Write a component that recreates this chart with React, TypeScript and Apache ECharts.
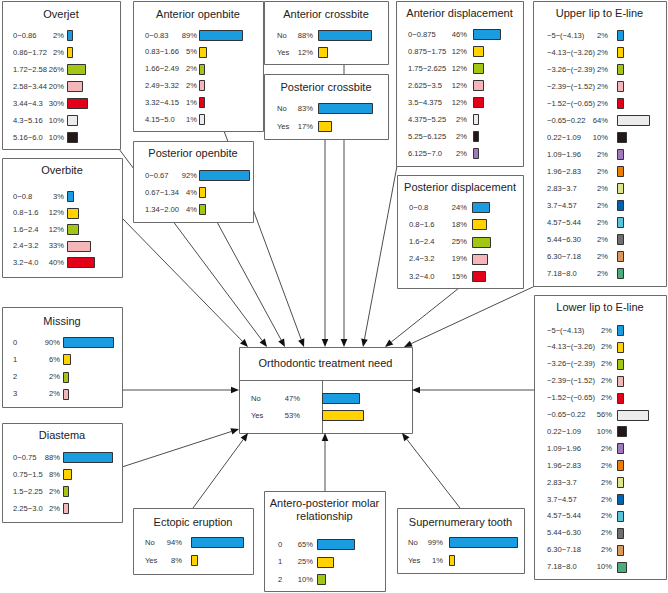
import React, { useEffect, useRef } from "react";
import * as echarts from "echarts";

// ---------- data ----------
const overjetStates = ["0−0.86", "0.86−1.72", "1.72−2.58", "2.58−3.44", "3.44−4.3", "4.3−5.16", "5.16−6.0"];
const overjetPct = [2, 2, 26, 20, 30, 10, 10];

const antOpenStates = ["0−0.83", "0.83−1.66", "1.66−2.49", "2.49−3.32", "3.32−4.15", "4.15−5.0"];
const antOpenPct = [89, 5, 2, 2, 1, 1];

const yesNoStates = ["No", "Yes"];
const antCrossPct = [88, 12];
const postCrossPct = [83, 17];

const antDispStates = ["0−0.875", "0.875−1.75", "1.75−2.625", "2.625−3.5", "3.5−4.375", "4.375−5.25", "5.25−6.125", "6.125−7.0"];
const antDispPct = [46, 12, 12, 12, 12, 2, 2, 2];

const lipStates = ["−5−(−4.13)", "−4.13−(−3.26)", "−3.26−(−2.39)", "−2.39−(−1.52)", "−1.52−(−0.65)", "−0.65−0.22", "0.22−1.09", "1.09−1.96", "1.96−2.83", "2.83−3.7", "3.7−4.57", "4.57−5.44", "5.44−6.30", "6.30−7.18", "7.18−8.0"];
const upperLipPct = [2, 2, 2, 2, 2, 64, 10, 2, 2, 2, 2, 2, 2, 2, 2];
const lowerLipPct = [2, 2, 2, 2, 2, 56, 10, 2, 2, 2, 2, 2, 2, 2, 10];

const overbiteStates = ["0−0.8", "0.8−1.6", "1.6−2.4", "2.4−3.2", "3.2−4.0"];
const overbitePct = [3, 12, 12, 33, 40];

const postOpenStates = ["0−0.67", "0.67−1.34", "1.34−2.00"];
const postOpenPct = [92, 4, 4];

const postDispStates = ["0−0.8", "0.8−1.6", "1.6−2.4", "2.4−3.2", "3.2−4.0"];
const postDispPct = [24, 18, 25, 19, 15];

const missingStates = ["0", "1", "2", "3"];
const missingPct = [90, 6, 2, 2];

const diastemaStates = ["0−0.75", "0.75−1.5", "1.5−2.25", "2.25−3.0"];
const diastemaPct = [88, 8, 2, 2];

const ectopicPct = [94, 8];

const molarStates = ["0", "1", "2"];
const molarPct = [65, 25, 10];

const superPct = [99, 1];

const needPct = [47, 53];

const PALETTE = ["#1a9de0", "#ffd200", "#a3c614", "#f4b6b9", "#e50019", "#ececec", "#231815", "#9f7bbd", "#ee7d00", "#dde58a", "#0063b1", "#5bc3d9", "#6f6f6f", "#d89a5f", "#4aae7a"];

// ---------- layout ----------
type Box = {
  title: string[];
  states: string[];
  pct: number[];
  x0: number; y0: number; x1: number; y1: number;
  titleY: number; labelX: number; pctRight: number; barStart: number;
  rowY0: number; sp: number; scale: number; base: number;
};

const boxes: Box[] = [
  { title: ["Overjet"], states: overjetStates, pct: overjetPct, x0: 2, y0: 1, x1: 120, y1: 149, titleY: 14, labelX: 13, pctRight: 64, barStart: 67, rowY0: 35, sp: 17, scale: 0.53, base: 8 },
  { title: ["Anterior openbite"], states: antOpenStates, pct: antOpenPct, x0: 133, y0: 1, x1: 263, y1: 131, titleY: 14, labelX: 145, pctRight: 197, barStart: 199, rowY0: 35, sp: 16.8, scale: 0.434, base: 10 },
  { title: ["Anterior crossbite"], states: yesNoStates, pct: antCrossPct, x0: 264, y0: 1, x1: 388, y1: 64, titleY: 14, labelX: 277, pctRight: 313, barStart: 318, rowY0: 35, sp: 17, scale: 0.58, base: 4 },
  { title: ["Posterior crossbite"], states: yesNoStates, pct: postCrossPct, x0: 264, y0: 74, x1: 388, y1: 139, titleY: 87, labelX: 277, pctRight: 313, barStart: 318, rowY0: 108, sp: 18, scale: 0.62, base: 4 },
  { title: ["Anterior displacement"], states: antDispStates, pct: antDispPct, x0: 396, y0: 1, x1: 523, y1: 166, titleY: 13, labelX: 408, pctRight: 467, barStart: 473, rowY0: 34, sp: 17, scale: 0.5, base: 8 },
  { title: ["Upper lip to E-line"], states: lipStates, pct: upperLipPct, x0: 533, y0: 1, x1: 666, y1: 286, titleY: 13, labelX: 547, pctRight: 608, barStart: 617, rowY0: 35, sp: 17, scale: 0.42, base: 12 },
  { title: ["Lower lip to E-line"], states: lipStates, pct: lowerLipPct, x0: 534, y0: 295, x1: 666, y1: 579, titleY: 307, labelX: 547, pctRight: 612, barStart: 617, rowY0: 330, sp: 16.9, scale: 0.5, base: 10 },
  { title: ["Overbite"], states: overbiteStates, pct: overbitePct, x0: 2, y0: 158, x1: 122, y1: 277, titleY: 170, labelX: 13, pctRight: 64, barStart: 67, rowY0: 196, sp: 16.5, scale: 0.5625, base: 8 },
  { title: ["Posterior openbite"], states: postOpenStates, pct: postOpenPct, x0: 133, y0: 141, x1: 253, y1: 222, titleY: 153, labelX: 145, pctRight: 197, barStart: 199, rowY0: 175, sp: 17, scale: 0.5, base: 8 },
  { title: ["Posterior displacement"], states: postDispStates, pct: postDispPct, x0: 397, y0: 175, x1: 523, y1: 288, titleY: 187, labelX: 409, pctRight: 467, barStart: 472, rowY0: 207, sp: 17.25, scale: 0.545, base: 8 },
  { title: ["Missing"], states: missingStates, pct: missingPct, x0: 2, y0: 307, x1: 122, y1: 407, titleY: 321, labelX: 13, pctRight: 60, barStart: 63, rowY0: 342, sp: 17.3, scale: 0.51, base: 8 },
  { title: ["Diastema"], states: diastemaStates, pct: diastemaPct, x0: 2, y0: 423, x1: 122, y1: 522, titleY: 435, labelX: 13, pctRight: 60, barStart: 63, rowY0: 457, sp: 17, scale: 0.51, base: 8 },
  { title: ["Ectopic eruption"], states: yesNoStates, pct: ectopicPct, x0: 133, y0: 508, x1: 253, y1: 574, titleY: 522, labelX: 145, pctRight: 182, barStart: 191, rowY0: 542, sp: 18, scale: 0.53, base: 4 },
  { title: ["Antero-posterior molar", "relationship"], states: molarStates, pct: molarPct, x0: 264, y0: 491, x1: 385, y1: 591, titleY: 503, labelX: 278, pctRight: 313, barStart: 317, rowY0: 544, sp: 17.5, scale: 0.536, base: 4 },
  { title: ["Supernumerary tooth"], states: yesNoStates, pct: superPct, x0: 397, y0: 508, x1: 524, y1: 573, titleY: 522, labelX: 408, pctRight: 443, barStart: 449, rowY0: 542, sp: 18, scale: 0.65, base: 6 },
  { title: ["Orthodontic treatment need"], states: yesNoStates, pct: needPct, x0: 239, y0: 347, x1: 412, y1: 433, titleY: 363, labelX: 251, pctRight: 300, barStart: 322, rowY0: 398, sp: 17, scale: 0.72, base: 4 },
];

// arrows: [x1, y1, x2(tip), y2(tip)]
const arrows: number[][] = [
  [122, 218, 248, 347],
  [119, 149, 267, 347],
  [217, 222, 285, 347],
  [224, 131, 304, 347],
  [325, 139, 325, 347],
  [344, 64, 344, 347],
  [397, 166, 363, 347],
  [459, 288, 385, 347],
  [535, 286, 404, 347],
  [534, 390, 412, 390],
  [122, 390, 239, 390],
  [122, 467, 239, 429],
  [193, 508, 248, 433],
  [325, 491, 325, 433],
  [460, 508, 402, 433],
];

const FONT = '"Liberation Sans", Arial, Helvetica, sans-serif';

function arrowEls(a: number[]) {
  const [x1, y1, x2, y2] = a;
  const dx = x2 - x1, dy = y2 - y1;
  const L = Math.hypot(dx, dy);
  const ux = dx / L, uy = dy / L;
  const len = 8, hw = 3.3;
  const bx = x2 - ux * len, by = y2 - uy * len;
  return [
    { type: "line", z: 0, shape: { x1, y1, x2: bx, y2: by }, style: { stroke: "#4d4d4d", lineWidth: 1 } },
    { type: "polygon", z: 3, shape: { points: [[x2, y2], [bx - uy * hw, by + ux * hw], [bx + uy * hw, by - ux * hw]] }, style: { fill: "#111" } },
  ];
}

export default function App() {
  const ref = useRef<HTMLDivElement>(null);
  useEffect(() => {
    if (!ref.current) return;
    const chart = echarts.init(ref.current, null, { renderer: "svg" });
    const grid: any[] = [];
    const xAxis: any[] = [];
    const yAxis: any[] = [];
    const series: any[] = [];
    const graphic: any[] = [];

    arrows.forEach((a) => graphic.push(...arrowEls(a)));

    boxes.forEach((b, i) => {
      const n = b.states.length;
      grid.push({ left: b.barStart, top: b.rowY0 - b.sp / 2, width: b.scale * (100 + b.base), height: b.sp * n, show: false });
      xAxis.push({ gridIndex: i, type: "value", min: -b.base, max: 100, show: false });
      const blockW = b.pctRight - b.labelX;
      const pW = 17;
      yAxis.push({
        gridIndex: i,
        type: "category",
        inverse: true,
        data: b.states,
        z: 5,
        axisLine: { show: false },
        axisTick: { show: false },
        splitLine: { show: false },
        axisLabel: {
          margin: b.barStart - b.pctRight,
          formatter: (v: string, idx: number) => `{n|${v}}{p|${b.pct[idx]}%}`,
          rich: {
            n: { width: blockW - pW, align: "left", fontSize: 7.6, fontFamily: FONT, color: "#333" },
            p: { width: pW, align: "right", fontSize: 7.6, fontFamily: FONT, color: "#333" },
          },
        },
      });
      const base = b.base;
      series.push({
        type: "custom",
        xAxisIndex: i,
        yAxisIndex: i,
        z: 5,
        encode: { x: 0, y: 1 },
        data: b.pct.map((p, k) => [p, k]),
        renderItem: (params: any, api: any) => {
          const v = api.value(0);
          const k = api.value(1);
          const s = api.coord([-base, k]);
          const e = api.coord([v, k]);
          return {
            type: "rect",
            shape: { x: Math.round(s[0]) + 0.5, y: Math.round(e[1] - 5) + 0.5, width: Math.round(e[0] - s[0]), height: 10 },
            style: { fill: PALETTE[k % PALETTE.length], stroke: "#333", lineWidth: 1 },
          };
        },
      });
      graphic.push({
        type: "rect", z: 1,
        shape: { x: b.x0 + 0.5, y: b.y0 + 0.5, width: b.x1 - b.x0, height: b.y1 - b.y0 },
        style: { fill: "#fff", stroke: "#6b6b6b", lineWidth: 1 },
      });
      b.title.forEach((t, j) => {
        graphic.push({
          type: "text", z: 5,
          style: { text: t, x: (b.x0 + b.x1) / 2, y: b.titleY + j * 13, textAlign: "center", textVerticalAlign: "middle", font: `11px ${FONT}`, fill: "#222" },
        });
      });
    });

    // center box dividers
    const c = boxes[boxes.length - 1];
    graphic.push({ type: "line", z: 2, shape: { x1: c.x0, y1: 380.5, x2: c.x1, y2: 380.5 }, style: { stroke: "#6b6b6b", lineWidth: 1 } });
    graphic.push({ type: "line", z: 2, shape: { x1: 322.5, y1: 380.5, x2: 322.5, y2: c.y1 }, style: { stroke: "#6b6b6b", lineWidth: 1 } });

    chart.setOption({
      animation: false,
      backgroundColor: "#fff",
      grid,
      xAxis,
      yAxis,
      series,
      graphic: { elements: graphic },
    });
    return () => chart.dispose();
  }, []);
  return <div ref={ref} style={{ position: "fixed", left: 0, top: 0, width: 668, height: 593, background: "#fff" }} />;
}
